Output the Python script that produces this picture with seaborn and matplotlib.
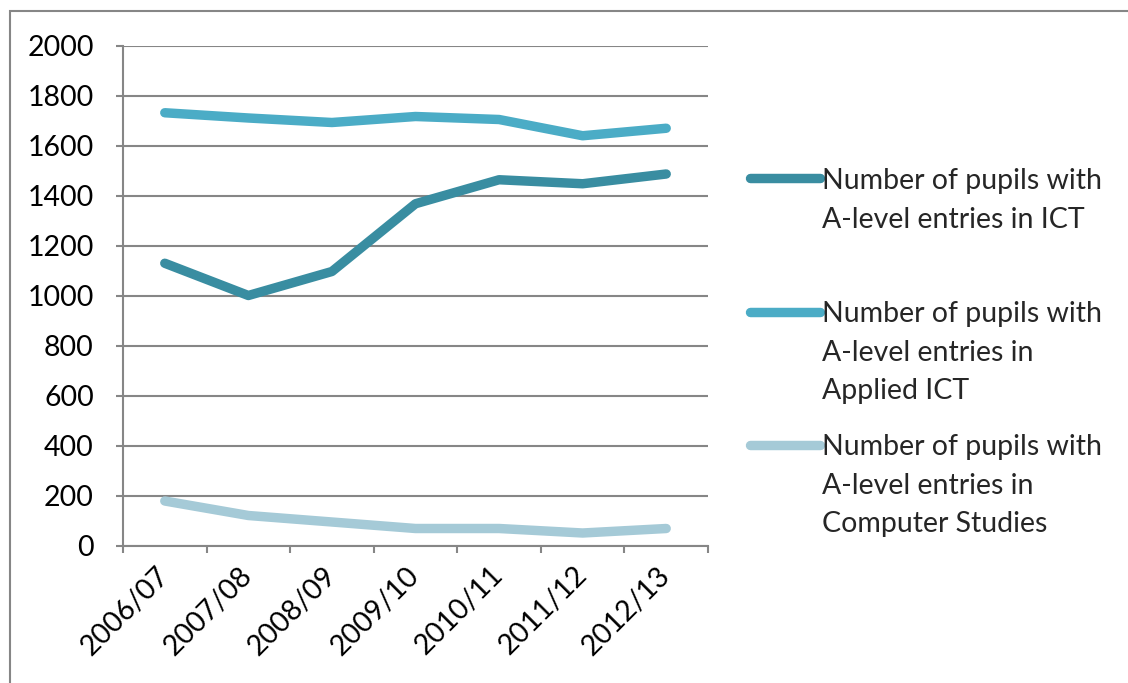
import matplotlib
matplotlib.use("Agg")
import matplotlib.pyplot as plt
import seaborn as sns
import pandas as pd
from matplotlib.legend_handler import HandlerLine2D
from matplotlib.patches import Rectangle

years = ["2006/07", "2007/08", "2008/09", "2009/10", "2010/11", "2011/12", "2012/13"]
ict = [1131, 1002, 1098, 1369, 1465, 1449, 1488]
applied_ict = [1733, 1712, 1694, 1718, 1706, 1641, 1671]
computer_studies = [180, 122, 96, 70, 70, 52, 70]

series_names = [
    "Number of pupils with\nA-level entries in ICT\n",
    "Number of pupils with\nA-level entries in\nApplied ICT",
    "Number of pupils with\nA-level entries in\nComputer Studies",
]
colors = ["#398DA1", "#4BACC6", "#A5CAD7"]
y_ticks = list(range(0, 2001, 200))

df = pd.DataFrame({
    "year": years * 3,
    "value": ict + applied_ict + computer_studies,
    "series": [series_names[0]] * 7 + [series_names[1]] * 7 + [series_names[2]] * 7,
})

sns.set_theme(style="white")
plt.rcParams["font.family"] = ["Lato", "DejaVu Sans"]

FS = 20.5
LW = 6.8
GREY = "#868686"

fig = plt.figure(figsize=(11.28, 6.83), dpi=100)
ax = fig.add_axes([123 / 1128, 1 - 546 / 683, (708 - 123) / 1128, 500 / 683])

sns.lineplot(data=df, x="year", y="value", hue="series", palette=colors,
             hue_order=series_names, linewidth=LW, ax=ax, sort=False,
             legend=True)
for ln in ax.lines:
    ln.set_solid_capstyle("round")
    ln.set_solid_joinstyle("round")

ax.set_xlim(-0.5, len(years) - 0.5)
ax.set_ylim(0, 2000)
ax.set_yticks(y_ticks)
ax.set_yticklabels([str(v) for v in y_ticks], fontsize=FS)
ax.yaxis.grid(True, color=GREY, linewidth=1.5)
ax.set_axisbelow(True)
ax.set_xlabel("")
ax.set_ylabel("")

ax.set_xticks(range(len(years)))
ax.set_xticklabels(years, rotation=45, ha="right", va="center",
                   rotation_mode="anchor", fontsize=FS)
ax.set_xticks([i - 0.5 for i in range(len(years) + 1)], minor=True)
ax.tick_params(axis="x", which="major", length=0, pad=18, colors="black")
ax.tick_params(axis="x", which="minor", length=5, width=1.5, color=GREY,
               direction="out", bottom=True)
ax.tick_params(axis="y", which="major", length=5, width=1.5, color=GREY,
               direction="out", left=True, pad=16, labelcolor="black")

for side in ["top", "right"]:
    ax.spines[side].set_visible(False)
for side in ["left", "bottom"]:
    ax.spines[side].set_color(GREY)
    ax.spines[side].set_linewidth(1.5)


class ShiftedHandler(HandlerLine2D):
    def __init__(self, shift, **kw):
        super().__init__(**kw)
        self.shift = shift

    def create_artists(self, legend, orig_handle, xdescent, ydescent, width,
                       height, fontsize, trans):
        arts = super().create_artists(legend, orig_handle, xdescent, ydescent,
                                      width, height, fontsize, trans)
        for a in arts:
            a.set_ydata([y + self.shift for y in a.get_ydata()])
            a.set_solid_capstyle("round")
        return arts


handles, labels = ax.get_legend_handles_labels()
ax.get_legend().remove()
shift = 30.0
leg = fig.legend(handles, labels, loc="upper left",
                 bbox_to_anchor=(750 / 1128, 1 - 168 / 683),
                 frameon=False, fontsize=FS, handlelength=2.45,
                 handletextpad=0.08, labelspacing=1.05, borderpad=0,
                 borderaxespad=0,
                 handler_map={h: ShiftedHandler(shift) for h in handles})
for t in leg.get_texts():
    t.set_linespacing(1.6)
for h in leg.legend_handles:
    h.set_linewidth(LW)

fig.add_artist(Rectangle((10 / 1128, -0.05), 1.2, 1 - 11 / 683 + 0.05,
                         transform=fig.transFigure, fill=False,
                         edgecolor=GREY, linewidth=1.5, clip_on=False))

fig.savefig("out.png", dpi=100)
